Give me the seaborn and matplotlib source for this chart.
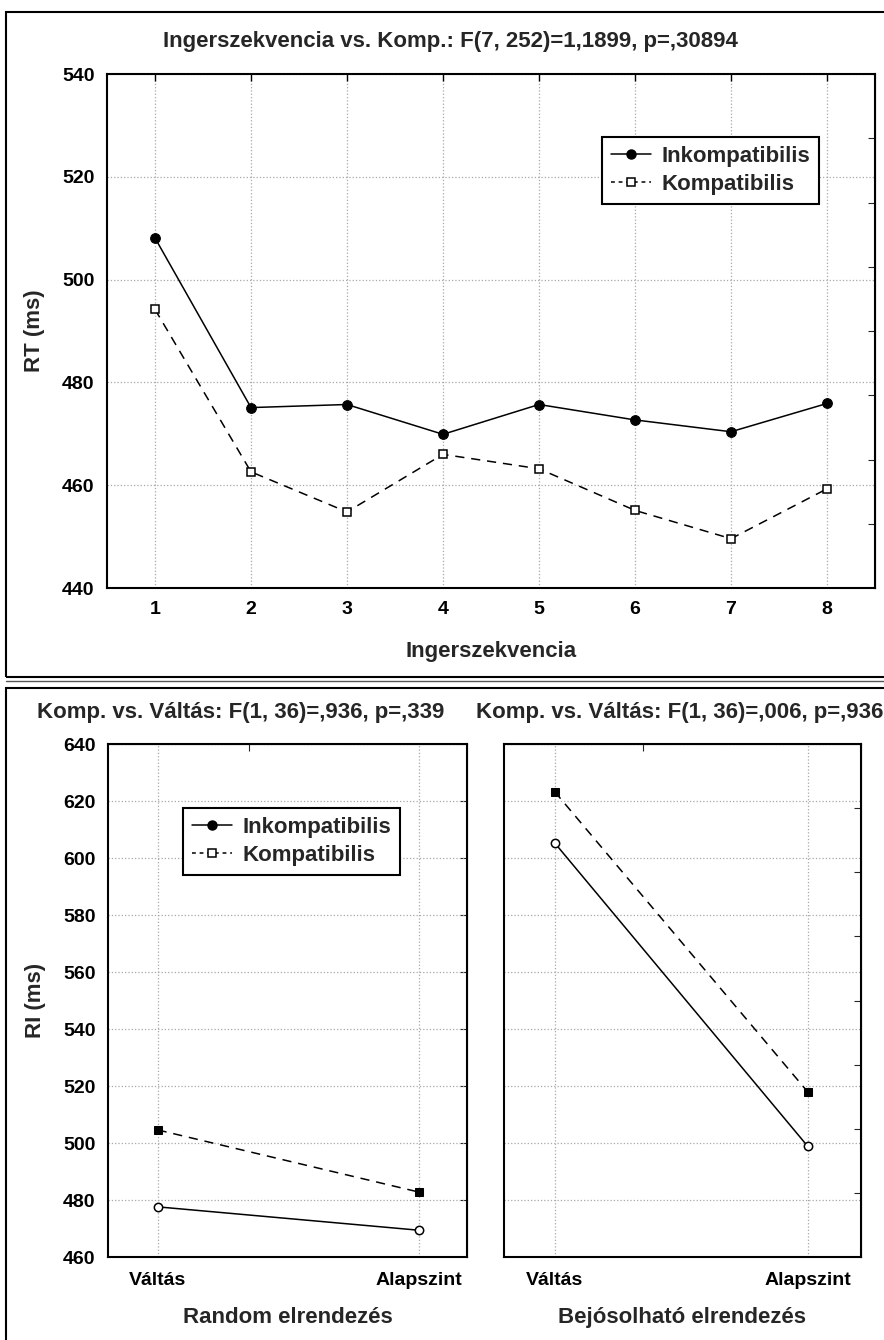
import matplotlib
matplotlib.use('Agg')
import numpy as np
import pandas as pd
import matplotlib.pyplot as plt
import seaborn as sns
from matplotlib.lines import Line2D
from matplotlib.patches import Rectangle

sns.set_style('white')
plt.rcParams['font.family'] = ['Liberation Sans', 'DejaVu Sans']
plt.rcParams['font.weight'] = 'bold'

# data
seq = [1, 2, 3, 4, 5, 6, 7, 8]
rt_inkomp = [508.1, 475.1, 475.7, 469.9, 475.7, 472.7, 470.4, 475.9]
rt_komp = [494.2, 462.6, 454.8, 466.0, 463.2, 455.1, 449.6, 459.3]

conds = ['Váltás', 'Alapszint']
ri_random_inkomp = [477.6, 469.4]
ri_random_komp = [504.6, 482.8]
ri_bejos_inkomp = [605.3, 498.8]
ri_bejos_komp = [623.3, 517.9]

series_names = ['Inkompatibilis', 'Kompatibilis']
title_top = 'Ingerszekvencia vs. Komp.: F(7, 252)=1,1899, p=,30894'
title_random = 'Komp. vs. Váltás: F(1, 36)=,936, p=,339'
title_bejos = 'Komp. vs. Váltás: F(1, 36)=,006, p=,936'

W, H = 884, 1340
fig = plt.figure(figsize=(W / 100, H / 100), dpi=100)


def box(l, t, r, b):
    return [l / W, 1 - b / H, (r - l) / W, (b - t) / H]


DASH = (0, (6, 4.5))
TICK_FS = 14
LAB_FS = 16


def style_axes(ax):
    ax.grid(True, linestyle=':', color='#a8a8a8', linewidth=0.9)
    for s in ax.spines.values():
        s.set_visible(True)
        s.set_color('black')
        s.set_linewidth(1.5)
    ax.tick_params(axis='both', direction='in', length=5, width=1,
                   colors='black', labelsize=TICK_FS, pad=9)


def legend_handles():
    return [Line2D([], [], color='black', lw=1.1, marker='o', ms=6.5, mfc='black', mec='black'),
            Line2D([], [], color='black', lw=1.1, ls=(0, (2.5, 2.5)), marker='s', ms=5.5,
                   mfc='white', mec='black', mew=1.1)]


def add_legend(ax, x, y):
    leg = ax.legend(legend_handles(), series_names, loc='upper left', bbox_to_anchor=(x, y),
                    borderaxespad=0, fancybox=False, framealpha=1, edgecolor='black',
                    prop={'size': LAB_FS, 'weight': 'bold'}, handlelength=1.8,
                    handletextpad=0.45, borderpad=0.4, labelspacing=0.3)
    leg.get_frame().set_linewidth(1.5)


# ---- top chart ----
ax1 = fig.add_axes(box(107, 74, 875, 588))
sns.lineplot(x=seq, y=rt_inkomp, ax=ax1, color='black', lw=1.1, marker='o', ms=7,
             mfc='black', mec='black')
sns.lineplot(x=seq, y=rt_komp, ax=ax1, color='black', lw=1.1, ls=DASH, marker='s', ms=6,
             mfc='white', mec='black', mew=1.1)
ax1.set_xlim(0.5, 8.5)
ax1.set_ylim(440, 540)
ax1.set_xticks(seq)
ax1.set_yticks(np.arange(440, 541, 20))
style_axes(ax1)
ax1.tick_params(axis='x', top=True)
ax1.tick_params(axis='y', length=0)
sec = ax1.secondary_yaxis('right')
sec.set_yticks(np.arange(452.5, 540, 12.5))
sec.tick_params(direction='in', length=5, labelright=False)
ax1.set_xlabel('Ingerszekvencia', fontsize=LAB_FS, fontweight='bold', labelpad=17)
ax1.set_ylabel('RT (ms)', fontsize=LAB_FS, fontweight='bold', labelpad=12)
add_legend(ax1, 0.645, 0.877)
fig.text(450 / W, 1 - 42 / H, title_top, ha='center', va='center', fontsize=LAB_FS,
         fontweight='bold')

# ---- bottom charts ----
ax2 = fig.add_axes(box(108, 744, 467, 1257))
ax3 = fig.add_axes(box(504, 744, 861, 1257))
for ax, ink, kom in [(ax2, ri_random_inkomp, ri_random_komp), (ax3, ri_bejos_inkomp, ri_bejos_komp)]:
    xs = list(range(len(conds)))
    sns.lineplot(x=xs, y=ink, ax=ax, color='black', lw=1.1, marker='o', ms=6,
                 mfc='white', mec='black', mew=1.1)
    sns.lineplot(x=xs, y=kom, ax=ax, color='black', lw=1.1, ls=DASH, marker='s', ms=6,
                 mfc='black', mec='black')
    ax.set_ylim(460, 640)
    ax.set_yticks(np.arange(460, 641, 20))
    ax.set_xticks(xs)
    ax.set_xticklabels(conds)
    style_axes(ax)
    ax.tick_params(axis='x', pad=11)
    top = ax.secondary_xaxis('top')
    top.set_xticks([0.35])
    top.tick_params(direction='in', length=5, labeltop=False)

ax2.set_xlim(-0.19, 1.185)
ax3.set_xlim(-0.2, 1.21)
ax2.tick_params(axis='y', length=0)
sec2 = ax2.secondary_yaxis('right')
sec2.set_yticks(np.arange(480, 640, 20))
sec2.tick_params(direction='in', length=5, labelright=False)
ax3.tick_params(axis='y', labelleft=False)
sec3 = ax3.secondary_yaxis('right')
sec3.set_yticks(np.arange(482.5, 640, 22.5))
sec3.tick_params(direction='in', length=5, labelright=False)

ax2.set_ylabel('RI (ms)', fontsize=LAB_FS, fontweight='bold', labelpad=12)
ax2.set_xlabel('Random elrendezés', fontsize=LAB_FS, fontweight='bold', labelpad=13)
ax3.set_xlabel('Bejósolható elrendezés', fontsize=LAB_FS, fontweight='bold', labelpad=13)
ax3.set_ylabel('')
add_legend(ax2, 0.21, 0.875)

fig.text(37 / W, 1 - 712 / H, title_random, ha='left', va='center', fontsize=LAB_FS,
         fontweight='bold')
fig.text(476 / W, 1 - 712 / H, title_bejos, ha='left', va='center', fontsize=LAB_FS,
         fontweight='bold')

# panel frames
for t, b in [(12, 677), (688, 1350)]:
    fig.patches.append(Rectangle((6 / W, 1 - b / H), (900 - 6) / W, (b - t) / H,
                                 transform=fig.transFigure, fill=False, lw=1.5,
                                 ec='black'))
fig.add_artist(Line2D([6 / W, 1], [1 - 681 / H] * 2, transform=fig.transFigure,
                      color='#555555', lw=1))

fig.savefig('out.png', dpi=100)
